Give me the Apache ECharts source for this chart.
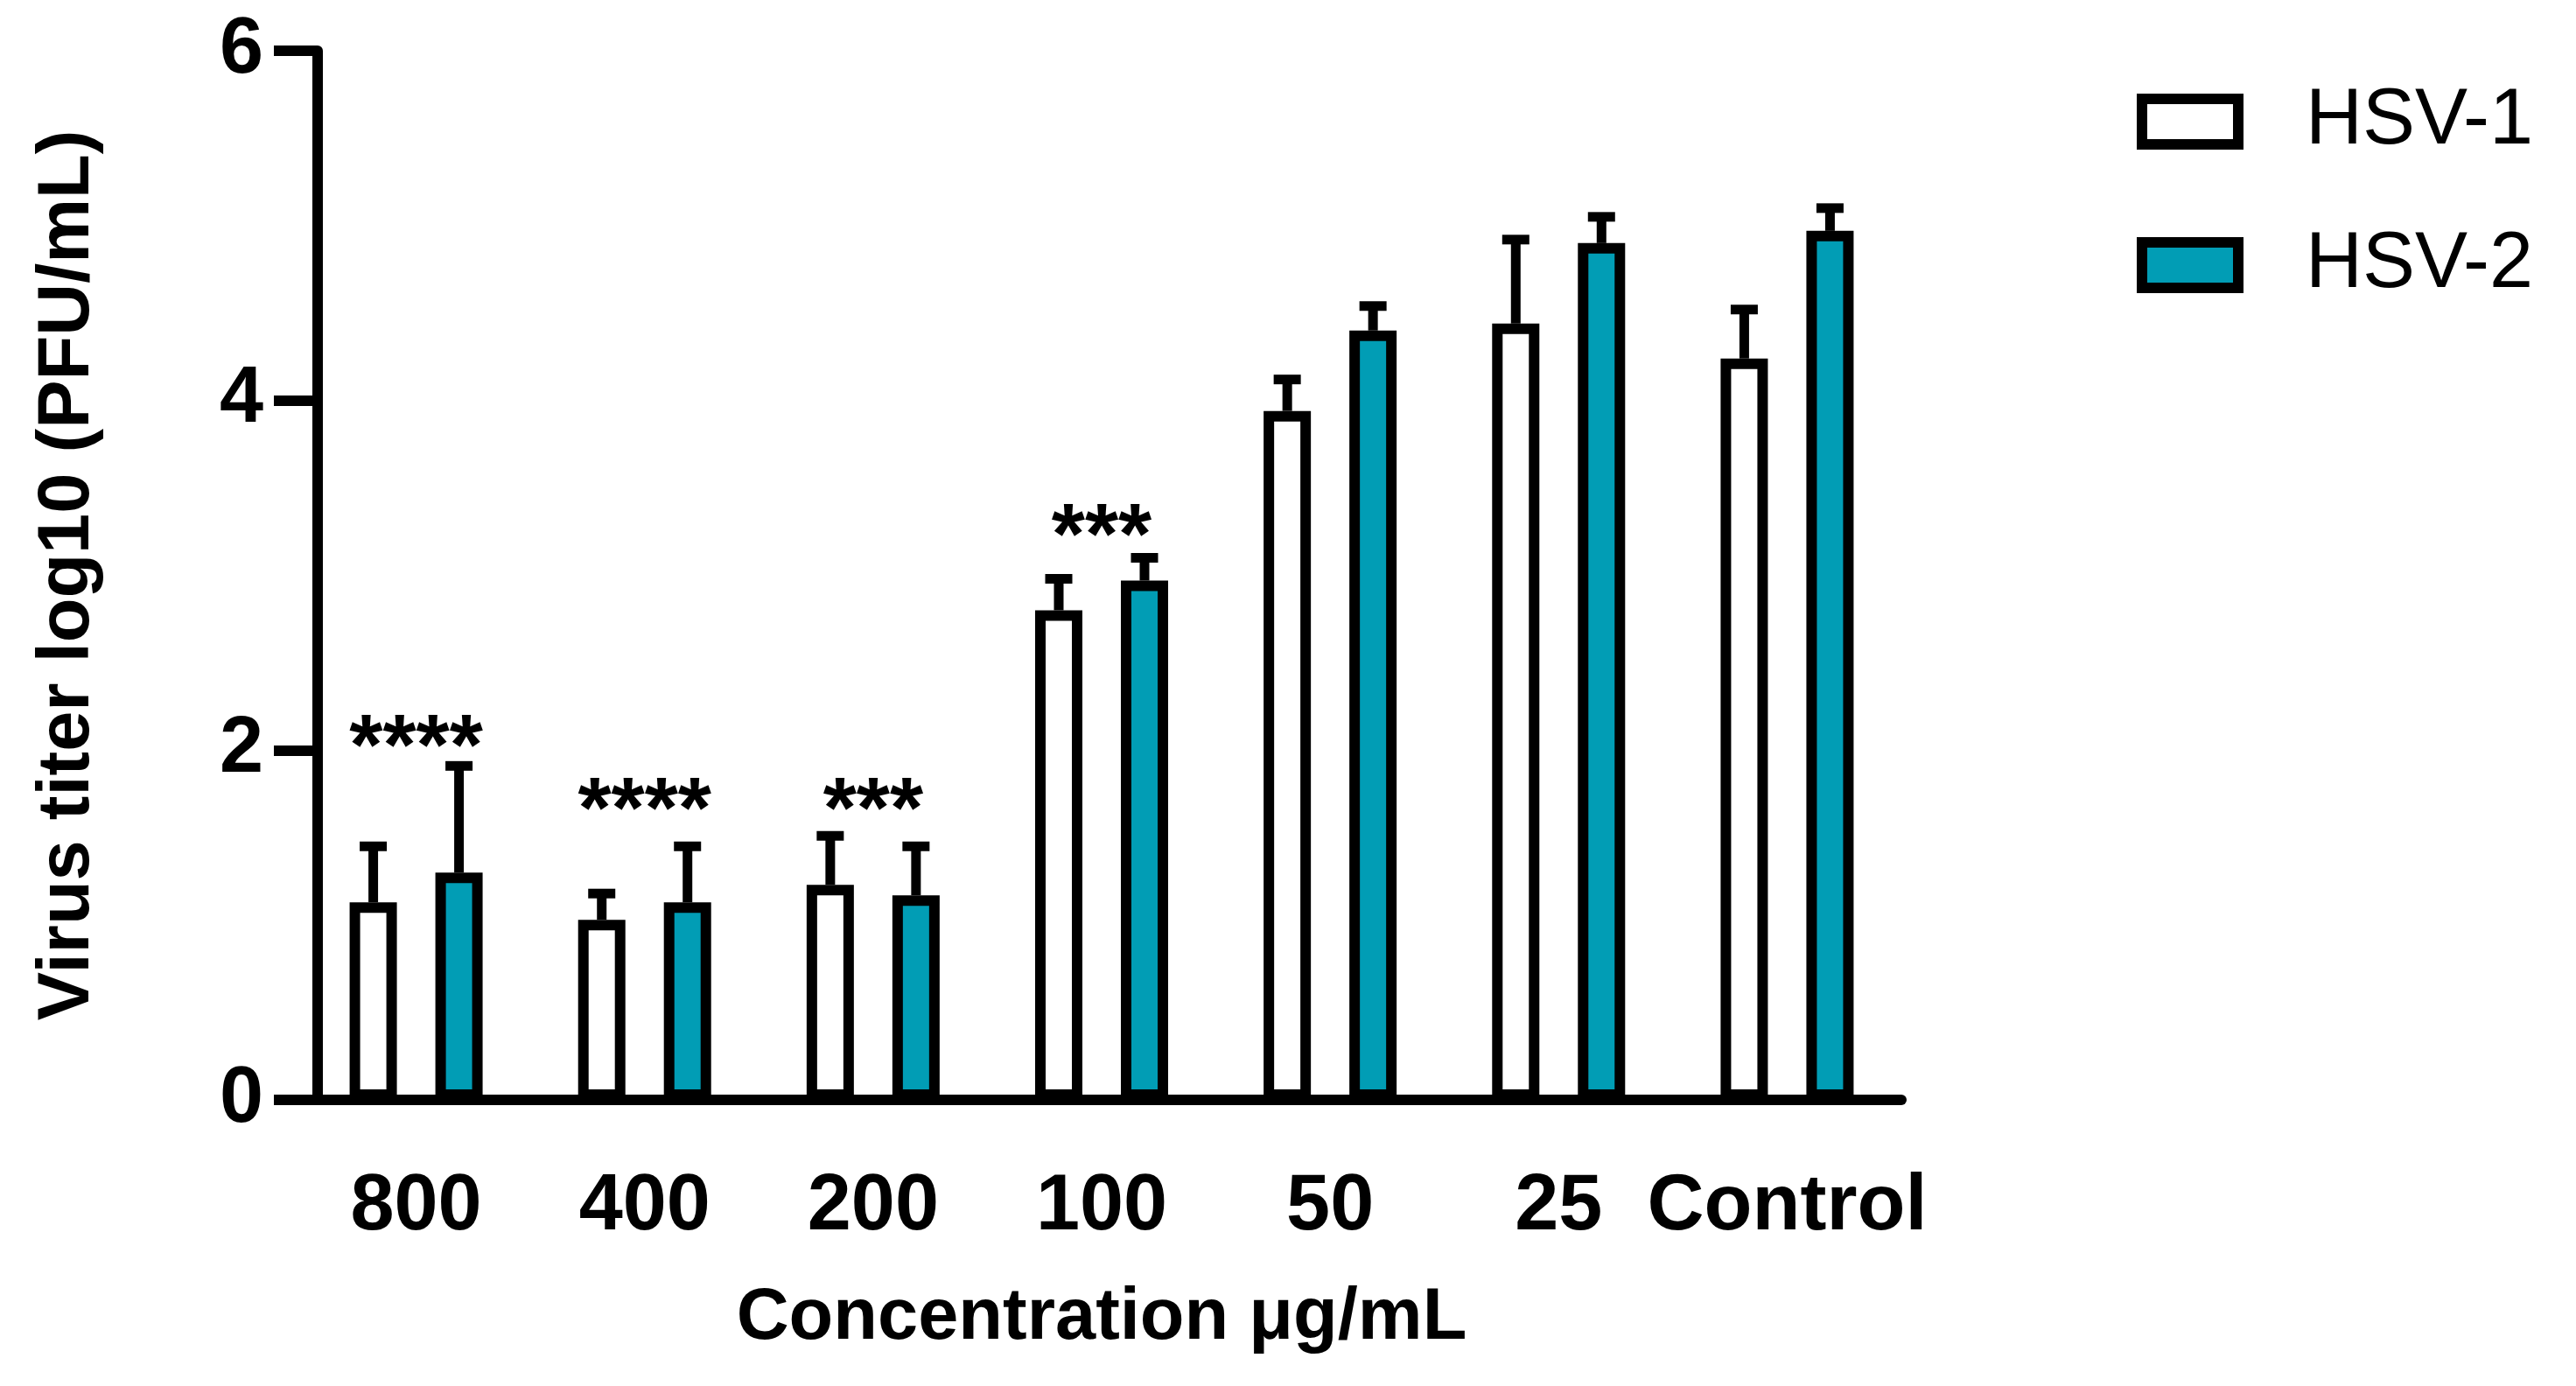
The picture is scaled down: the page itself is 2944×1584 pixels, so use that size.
<!DOCTYPE html>
<html>
<head>
<meta charset="utf-8">
<title>Virus titer</title>
<script src="https://cdn.jsdelivr.net/npm/echarts@6/dist/echarts.min.js"></script>
<style>
    html, body { margin: 0; padding: 0; background: #ffffff; }
    #chart { width: 2944px; height: 1584px; }
</style>
</head>
<body>
<div id="chart"></div>
<script>
// values (log10 PFU/mL), mean and upper SD
const categories = ['800', '400', '200', '100', '50', '25', 'Control'];
const hsv1Mean = [1.13, 1.03, 1.23, 2.80, 3.94, 4.44, 4.24];
const hsv1Sd = [0.32, 0.15, 0.28, 0.18, 0.18, 0.48, 0.28];
const hsv2Mean = [1.30, 1.13, 1.17, 2.97, 4.40, 4.90, 4.97];
const hsv2Sd = [0.61, 0.32, 0.28, 0.13, 0.14, 0.15, 0.13];
// significance marks, centred over a group
const starGroups = [0, 1, 2, 3];
const starLabels = ['****', '****', '***', '***'];
const starY = [2.10, 1.74, 1.74, 3.31];
const yTicks = [0, 2, 4, 6];

const FONT = "'Liberation Sans', Arial, Helvetica, sans-serif";
const barWidth = 54;
const barGapPx = 44;
const capWidth = 31;

function errorData(mean, sd) {
    return mean.map((m, i) => [i, m, sd[i]]);
}

function errorBars(sign) {
    return function (params, api) {
        const idx = api.value(0);
        const mean = api.value(1);
        const base = api.coord([idx, mean]);
        const top = api.coord([idx, mean + api.value(2)]);
        const x = base[0] + sign * (barWidth + barGapPx) / 2;
        return {
            type: 'group',
            children: [{
                type: 'line',
                shape: { x1: x, y1: base[1], x2: x, y2: top[1] },
                style: { stroke: '#000', lineWidth: 11 }
            }, {
                type: 'line',
                shape: { x1: x - capWidth / 2, y1: top[1], x2: x + capWidth / 2, y2: top[1] },
                style: { stroke: '#000', lineWidth: 11 }
            }]
        };
    };
}

const chart = echarts.init(document.getElementById('chart'), null, { renderer: 'canvas' });

chart.setOption({
    backgroundColor: '#ffffff',
    animation: false,
    textStyle: { fontFamily: FONT, color: '#000' },
    grid: {
        left: 345,
        right: 771,
        top: 58,
        bottom: 327
    },
    legend: {
        data: ['HSV-1', 'HSV-2'],
        orient: 'vertical',
        left: 2442,
        top: 89,
        padding: 0,
        icon: 'rect',
        itemWidth: 110,
        itemHeight: 52,
        itemGap: 64,
        itemStyle: { borderColor: '#000', borderWidth: 12 },
        textStyle: {
            fontFamily: FONT,
            fontSize: 90,
            lineHeight: 100,
            color: '#000',
            padding: [0, 0, 0, 72]
        }
    },
    xAxis: {
        type: 'category',
        data: categories,
        name: 'Concentration μg/mL',
        nameLocation: 'middle',
        nameGap: 209,
        nameTextStyle: { fontFamily: FONT, fontSize: 83, fontWeight: 'bold', color: '#000' },
        axisLine: { lineStyle: { color: '#000', width: 12 } },
        axisTick: { alignWithLabel: true, length: 50, lineStyle: { color: '#000', width: 12 } },
        axisLabel: {
            fontFamily: FONT, fontSize: 90, fontWeight: 'bold', color: '#000',
            margin: 78, interval: 0
        },
        splitLine: { show: false }
    },
    yAxis: {
        type: 'value',
        min: yTicks[0],
        max: yTicks[yTicks.length - 1],
        interval: yTicks[1] - yTicks[0],
        offset: -18,
        name: 'Virus titer log10 (PFU/mL)',
        nameLocation: 'middle',
        nameGap: 243,
        nameTextStyle: { fontFamily: FONT, fontSize: 83, fontWeight: 'bold', color: '#000' },
        axisLine: { show: true, lineStyle: { color: '#000', width: 12 } },
        axisTick: { show: true, length: 50, lineStyle: { color: '#000', width: 12 } },
        axisLabel: { fontFamily: FONT, fontSize: 90, fontWeight: 'bold', color: '#000', margin: 62 },
        splitLine: { show: false }
    },
    series: [{
        name: 'HSV-1',
        type: 'bar',
        data: hsv1Mean,
        barWidth: barWidth,
        barGap: (barGapPx / barWidth * 100) + '%',
        itemStyle: { color: '#ffffff', borderColor: '#000', borderWidth: 12 },
        z: 2
    }, {
        name: 'HSV-2',
        type: 'bar',
        data: hsv2Mean,
        barWidth: barWidth,
        barGap: (barGapPx / barWidth * 100) + '%',
        itemStyle: { color: '#019db5', borderColor: '#000', borderWidth: 12 },
        z: 2
    }, {
        name: 'HSV-1 SD',
        type: 'custom',
        data: errorData(hsv1Mean, hsv1Sd),
        renderItem: errorBars(-1),
        encode: { x: 0, y: 1 },
        z: 3
    }, {
        name: 'HSV-2 SD',
        type: 'custom',
        data: errorData(hsv2Mean, hsv2Sd),
        renderItem: errorBars(1),
        encode: { x: 0, y: 1 },
        z: 3
    }, {
        name: 'stars',
        type: 'scatter',
        data: starGroups.map((g, i) => [g, starY[i]]),
        symbolSize: 1,
        itemStyle: { color: 'rgba(0,0,0,0)' },
        label: {
            show: true,
            position: 'inside',
            offset: [0, 21],
            fontFamily: FONT,
            fontSize: 98,
            fontWeight: 'bold',
            color: '#000',
            opacity: 1,
            formatter: (p) => starLabels[p.dataIndex]
        },
        z: 4
    }]
});
</script>
</body>
</html>
